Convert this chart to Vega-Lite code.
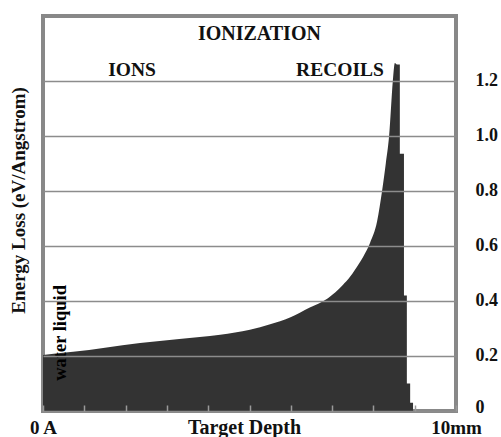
{
  "$schema": "https://vega.github.io/schema/vega-lite/v6.json",
  "width": 413,
  "height": 395,
  "autosize": {"type": "none"},
  "padding": {"left": 43, "top": 16, "right": 45, "bottom": 26},
  "background": "white",
  "config": {
    "view": {"stroke": "#888888", "strokeWidth": 4},
    "font": "Liberation Serif"
  },
  "datasets": {
    "curve": [
      {"depth": 0, "loss": 0.204},
      {"depth": 0.73, "loss": 0.215},
      {"depth": 1.5, "loss": 0.23},
      {"depth": 2.35, "loss": 0.247},
      {"depth": 3.3, "loss": 0.262},
      {"depth": 4.29, "loss": 0.277},
      {"depth": 5.01, "loss": 0.295},
      {"depth": 5.5, "loss": 0.315},
      {"depth": 5.98, "loss": 0.34},
      {"depth": 6.46, "loss": 0.376},
      {"depth": 6.9, "loss": 0.41},
      {"depth": 7.26, "loss": 0.458},
      {"depth": 7.43, "loss": 0.487},
      {"depth": 7.55, "loss": 0.513},
      {"depth": 7.75, "loss": 0.56},
      {"depth": 7.92, "loss": 0.612},
      {"depth": 8.09, "loss": 0.69},
      {"depth": 8.21, "loss": 0.8},
      {"depth": 8.3, "loss": 0.9},
      {"depth": 8.38, "loss": 1.0},
      {"depth": 8.47, "loss": 1.2},
      {"depth": 8.5, "loss": 1.25},
      {"depth": 8.52, "loss": 1.265},
      {"depth": 8.57, "loss": 1.26},
      {"depth": 8.64, "loss": 1.26},
      {"depth": 8.641, "loss": 0.935},
      {"depth": 8.74, "loss": 0.935},
      {"depth": 8.741, "loss": 0.42},
      {"depth": 8.81, "loss": 0.42},
      {"depth": 8.811, "loss": 0.1},
      {"depth": 8.89, "loss": 0.1},
      {"depth": 8.891, "loss": 0.03},
      {"depth": 8.96, "loss": 0.03},
      {"depth": 8.961, "loss": 0}
    ],
    "notes": [
      {"label": "IONIZATION", "depth": 5.24, "loss": 1.347, "size": 20},
      {"label": "IONS", "depth": 2.155, "loss": 1.218, "size": 19.5},
      {"label": "RECOILS", "depth": 7.19, "loss": 1.218, "size": 19.5}
    ],
    "side": [
      {"label": "water liquid", "depth": 0.41, "loss": 0.284}
    ]
  },
  "resolve": {"axis": {"x": "independent", "y": "independent"}},
  "layer": [
    {
      "data": {"name": "curve"},
      "mark": {"type": "area", "color": "#333333", "interpolate": "monotone"},
      "encoding": {
        "x": {
          "field": "depth", "type": "quantitative",
          "scale": {"domain": [0, 10], "nice": false, "zero": false},
          "axis": {
            "orient": "bottom",
            "values": [0, 1, 2, 3, 4, 5, 6, 7, 8, 9, 10],
            "labelExpr": "datum.value == 0 ? '0 A' : (datum.value == 10 ? '10mm' : '')",
            "labelFont": "Liberation Serif", "labelFontWeight": "bold", "labelFontSize": 19,
            "labelColor": "#111111",
            "labelBaseline": "alphabetic", "labelPadding": 28,
            "labelOverlap": false, "labelFlush": false, "labelBound": false,
            "tickSize": -6, "tickColor": "#9a9a9a", "tickWidth": 1.5,
            "domain": false, "grid": false, "zindex": 1,
            "title": "Target Depth",
            "titleFont": "Liberation Serif", "titleFontWeight": "bold", "titleFontSize": 20,
            "titleColor": "#111111",
            "titleX": 201, "titleY": 22, "titleBaseline": "alphabetic", "titleAlign": "center", "titleAnchor": null
          }
        },
        "y": {
          "field": "loss", "type": "quantitative",
          "scale": {"domain": [0, 1.436], "nice": false},
          "axis": {
            "orient": "right",
            "values": [0, 0.2, 0.4, 0.6, 0.8, 1.0, 1.2],
            "labelExpr": "datum.value == 0 ? '0' : format(datum.value, '.1f')",
            "labelFont": "Liberation Serif", "labelFontWeight": "bold", "labelFontSize": 18,
            "labelColor": "#111111",
            "labelOffset": {"condition": {"test": "datum.value == 0", "value": -4}, "value": 0},
            "labelPadding": 19, "labelOverlap": false, "labelFlush": false, "labelBound": false,
            "ticks": false, "domain": false,
            "grid": true, "gridColor": "#8c8c8c", "gridWidth": 1.5,
            "zindex": 1, "title": null
          }
        }
      }
    },
    {
      "data": {"name": "notes"},
      "mark": {"type": "text", "font": "Liberation Serif", "fontWeight": "bold", "align": "center", "baseline": "alphabetic", "color": "#111111"},
      "encoding": {
        "x": {"field": "depth", "type": "quantitative", "axis": null},
        "y": {
          "field": "loss", "type": "quantitative",
          "axis": {
            "orient": "left", "labels": false, "ticks": false, "domain": false, "grid": false,
            "title": "Energy Loss (eV/Angstrom)",
            "titleFont": "Liberation Serif", "titleFontWeight": "bold", "titleFontSize": 19,
            "titleColor": "#111111",
            "titleX": -19, "titleY": 184, "titleBaseline": "alphabetic", "titleAlign": "center", "titleAngle": -90, "titleAnchor": null
          }
        },
        "size": {"field": "size", "type": "quantitative", "scale": null, "legend": null},
        "text": {"field": "label"}
      }
    },
    {
      "data": {"name": "side"},
      "mark": {"type": "text", "font": "Liberation Serif", "fontWeight": "bold", "fontSize": 18.5, "align": "center", "baseline": "middle", "angle": 270, "color": "#000000"},
      "encoding": {
        "x": {"field": "depth", "type": "quantitative", "axis": null},
        "y": {"field": "loss", "type": "quantitative", "axis": null},
        "text": {"field": "label"}
      }
    }
  ]
}
